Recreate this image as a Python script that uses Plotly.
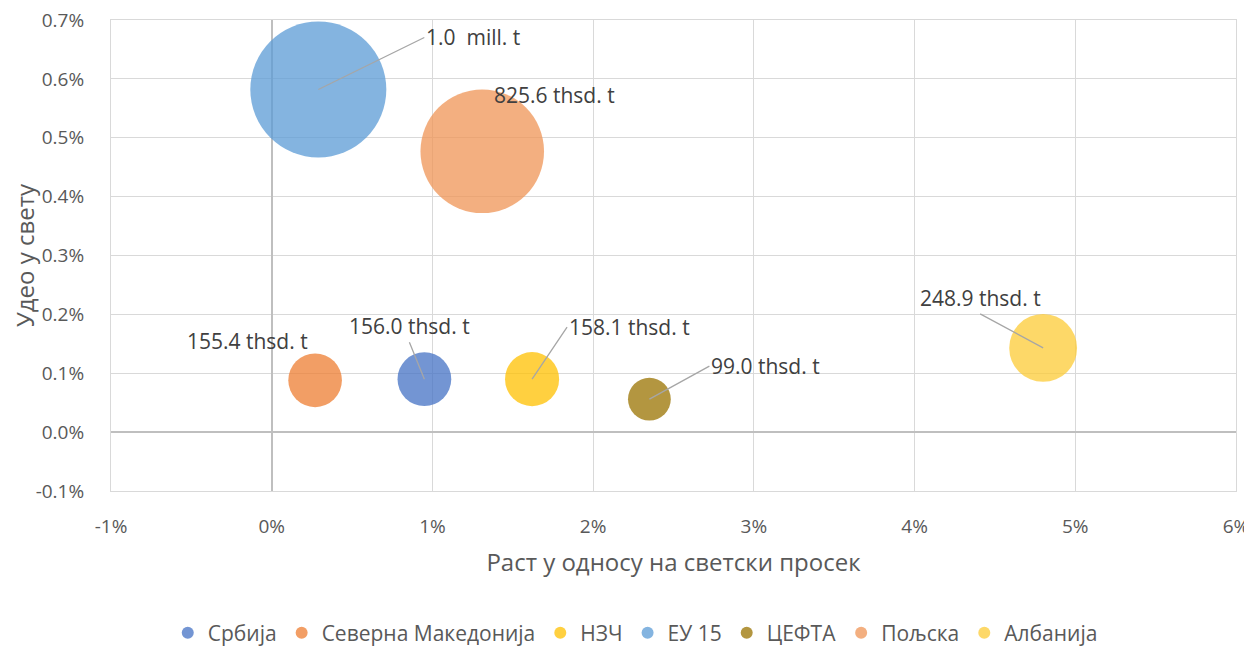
import plotly.graph_objects as go

names = ["Србија", "Северна Македонија", "НЗЧ", "ЕУ 15", "ЦЕФТА", "Пољска", "Албанија"]
growth = [0.0095, 0.0027, 0.0162, 0.0029, 0.0235, 0.0131, 0.0480]
share = [0.00090, 0.00088, 0.00090, 0.00582, 0.00056, 0.00477, 0.00143]
volume_thsd_t = [156.0, 155.4, 158.1, 1000.0, 99.0, 825.6, 248.9]
labels = ["156.0 thsd. t", "155.4 thsd. t", "158.1 thsd. t", "1.0  mill. t",
          "99.0 thsd. t", "825.6 thsd. t", "248.9 thsd. t"]
colors = ["#4472C4", "#ED7D31", "#FFC000", "#5B9BD5", "#997300", "#EF9455", "#FCCB35"]

x_ticks = [-0.01, 0.0, 0.01, 0.02, 0.03, 0.04, 0.05, 0.06]
x_ticktext = ["-1%", "0%", "1%", "2%", "3%", "4%", "5%", "6%"]
y_ticks = [-0.001, 0.0, 0.001, 0.002, 0.003, 0.004, 0.005, 0.006, 0.007]
y_ticktext = ["-0.1%", "0.0%", "0.1%", "0.2%", "0.3%", "0.4%", "0.5%", "0.6%", "0.7%"]

# label placement: (ax, ay, xanchor, yanchor, leader)
label_pos = [
    (-15, -37, "center", "bottom", True),
    (-5, -39, "right", "middle", False),
    (35, -52, "left", "middle", True),
    (106, -52, "left", "middle", True),
    (60, -33, "left", "middle", True),
    (10, -56, "left", "middle", False),
    (-63, -34, "center", "bottom", True),
]

FONT = "Open Sans"
max_diam = 136
sizeref = 2 * max(volume_thsd_t) / (max_diam ** 2)

fig = go.Figure()
for n, gx, sy, v, c in zip(names, growth, share, volume_thsd_t, colors):
    fig.add_trace(go.Scatter(
        x=[gx], y=[sy], mode="markers", name=n,
        marker=dict(size=[v], sizemode="area", sizeref=sizeref, color=c,
                    opacity=0.75, line=dict(width=0)),
        hoverinfo="skip",
    ))

for gx, sy, lab, (ax, ay, xa, ya, leader) in zip(growth, share, labels, label_pos):
    if leader:
        fig.add_annotation(x=gx, y=sy, text=lab, showarrow=True, ax=ax, ay=ay,
                           xanchor=xa, yanchor=ya, arrowhead=0, arrowwidth=1.3,
                           arrowcolor="#A6A6A6", standoff=0, startstandoff=0,
                           font=dict(family=FONT, size=21, color="#404040"))
    else:
        fig.add_annotation(x=gx, y=sy, text=lab, showarrow=False, xshift=ax, yshift=-ay,
                           xanchor=xa, yanchor=ya,
                           font=dict(family=FONT, size=21, color="#404040"))

fig.update_layout(
    width=1244, height=638,
    margin=dict(l=103, r=16, t=12, b=155, autoexpand=False),
    paper_bgcolor="white", plot_bgcolor="white",
    font=dict(family=FONT, color="#595959"),
    showlegend=True,
    legend=dict(orientation="h", x=0.466, xanchor="center", y=-0.3015, yanchor="middle",
                itemsizing="constant", itemwidth=30,
                font=dict(size=21, color="#595959")),
    xaxis=dict(range=[-0.01, 0.06], tickvals=x_ticks, ticktext=x_ticktext,
               showgrid=True, gridcolor="#D9D9D9", gridwidth=1,
               zeroline=True, zerolinecolor="#BFBFBF", zerolinewidth=1.5,
               showline=True, linecolor="#D9D9D9", mirror=True,
               ticks="", ticklabelstandoff=18, ticklabeloverflow="allow",
               tickfont=dict(size=19, color="#595959"),
               title=dict(text="Раст у односу на светски просек", standoff=16,
                          font=dict(size=24, color="#595959"))),
    yaxis=dict(range=[-0.001, 0.007], tickvals=y_ticks, ticktext=y_ticktext,
               showgrid=True, gridcolor="#D9D9D9", gridwidth=1,
               zeroline=True, zerolinecolor="#BFBFBF", zerolinewidth=1.5,
               showline=True, linecolor="#D9D9D9", mirror=True,
               ticks="", ticklabelstandoff=22, ticklabeloverflow="allow",
               tickfont=dict(size=19, color="#595959"),
               title=dict(text="Удео у свету", standoff=3,
                          font=dict(size=24, color="#595959"))),
)

fig.write_html("out.html")
